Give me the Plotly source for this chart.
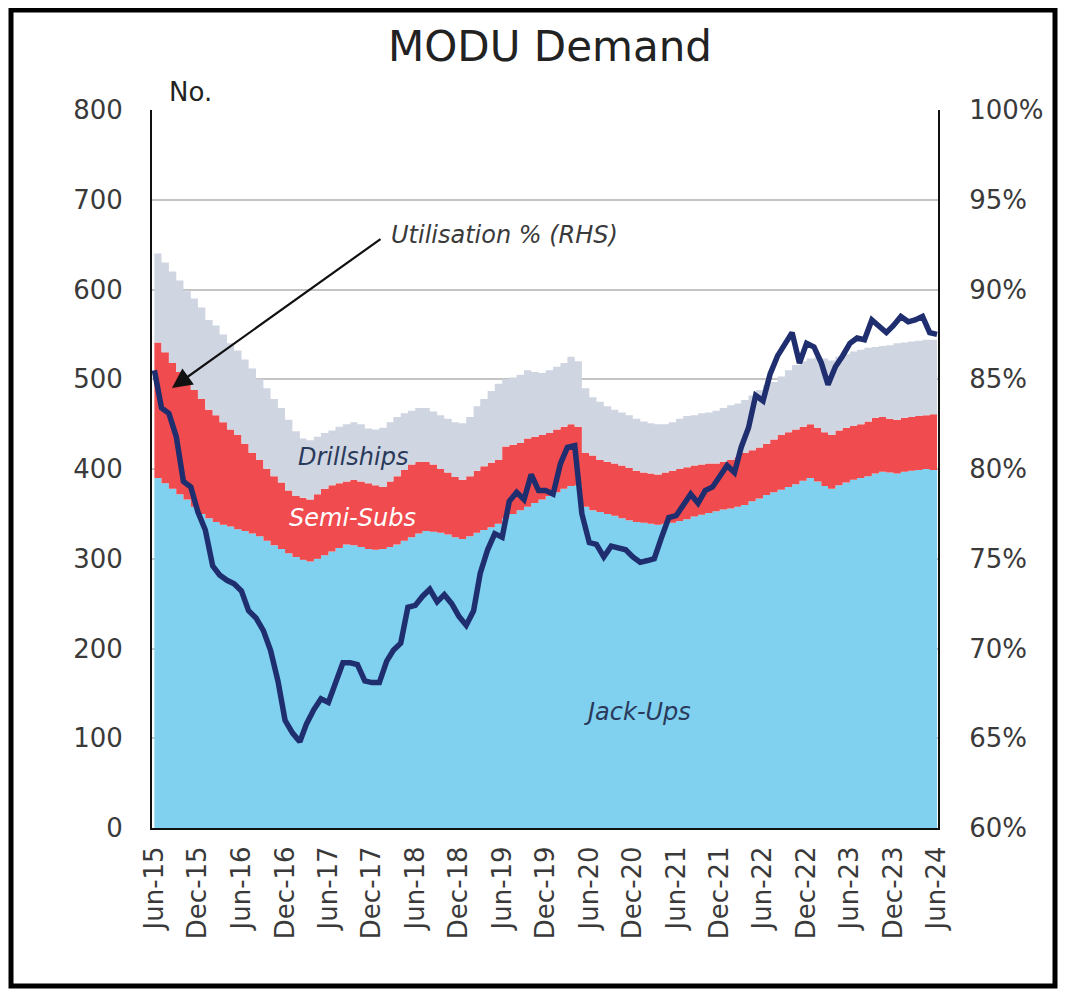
import pandas as pd
import plotly.graph_objects as go

# ---------------- data (monthly, Jun-15 .. Jun-24) ----------------
months = pd.date_range("2015-06-01", periods=109, freq="MS")

jack_ups = [
    390, 384, 378, 372, 366, 358, 350, 345, 341, 338, 336, 333,
    331, 328, 325, 320, 315, 311, 306, 302, 299, 297, 300, 304,
    308, 312, 316, 315, 313, 311, 310, 311, 313, 316, 320, 324,
    328, 331, 330, 329, 327, 324, 322, 325, 329, 332, 335, 339,
    345, 350, 354, 358, 362, 366, 370, 374, 378, 381, 382, 358,
    354, 352, 350, 348, 345, 343, 341, 340, 339, 338, 339, 340,
    342, 344, 347, 349, 351, 353, 355, 356, 358, 360, 364, 367,
    371, 374, 377, 380, 383, 387, 390, 386, 381, 378, 382, 385,
    388, 390, 392, 395, 397, 396, 395, 397, 398, 399, 400, 399,
    391,
]

semi_subs_top = [
    541, 530, 518, 508, 498, 488, 478, 466, 460, 452, 444, 438,
    428, 418, 410, 400, 392, 385, 376, 370, 368, 366, 372, 378,
    382, 384, 386, 388, 386, 384, 382, 380, 386, 392, 399, 405,
    408, 408, 405, 400, 396, 391, 388, 392, 398, 403, 407, 410,
    425, 427, 429, 434, 436, 438, 440, 444, 447, 450, 447, 418,
    415, 410, 408, 406, 404, 401, 398, 396, 395, 394, 396, 398,
    400, 402, 404, 405, 406, 406, 408, 410, 413, 418, 421, 424,
    428, 433, 438, 441, 444, 447, 450, 446, 441, 438, 443, 446,
    448, 450, 453, 457, 458, 456, 455, 457, 458, 459, 460, 461,
    455,
]

drillships_top = [
    640, 630, 620, 610, 598, 590, 580, 566, 560, 550, 540, 532,
    522, 512, 500, 490, 478, 468, 455, 442, 434, 432, 436, 440,
    443, 447, 450, 452, 450, 445, 444, 446, 452, 458, 462, 465,
    468, 468, 464, 460, 456, 452, 451, 458, 470, 478, 487, 495,
    500, 502, 505, 510, 508, 507, 510, 514, 518, 525, 520, 490,
    480, 475, 470, 466, 463, 460, 456, 453, 451, 450, 450, 452,
    456, 459, 460, 462, 463, 465, 468, 471, 473, 477, 482, 488,
    493, 497, 503, 510, 516, 520, 523, 524, 523, 521, 525, 528,
    531, 533, 535, 536, 537, 538, 540, 541, 542, 543, 544, 544,
    544,
]

utilisation = [
    85.5, 83.4, 83.1, 81.8, 79.3, 79.0, 77.6, 76.6, 74.6, 74.1, 73.8, 73.6,
    73.2, 72.1, 71.7, 71.0, 69.9, 68.2, 66.0, 65.3, 64.8, 65.8, 66.6, 67.2,
    67.0, 68.2, 69.2, 69.2, 69.1, 68.2, 68.1, 68.1, 69.3, 69.9, 70.3, 72.3,
    72.4, 72.9, 73.3, 72.6, 73.0, 72.5, 71.8, 71.3, 72.1, 74.2, 75.5, 76.4,
    76.2, 78.2, 78.7, 78.3, 79.7, 78.8, 78.8, 78.6, 80.3, 81.2, 81.3, 77.5,
    75.9, 75.8, 75.1, 75.7, 75.6, 75.5, 75.1, 74.8, 74.9, 75.0, 76.2, 77.3,
    77.4, 78.0, 78.6, 78.1, 78.8, 79.0, 79.6, 80.2, 79.8, 81.2, 82.3, 84.1,
    83.8, 85.3, 86.3, 87.0, 87.6, 85.9, 87.0, 86.8, 85.9, 84.7, 85.7, 86.3,
    87.0, 87.3, 87.2, 88.3, 88.0, 87.6, 88.0, 88.5, 88.2, 88.3, 88.5, 87.6,
    87.5,
]

tick_dates = pd.date_range("2015-06-01", "2024-06-01", freq="6MS")
tick_labels = ["Jun-15", "Dec-15", "Jun-16", "Dec-16", "Jun-17", "Dec-17",
               "Jun-18", "Dec-18", "Jun-19", "Dec-19", "Jun-20", "Dec-20",
               "Jun-21", "Dec-21", "Jun-22", "Dec-22", "Jun-23", "Dec-23",
               "Jun-24"]

semi_subs = [t - j for t, j in zip(semi_subs_top, jack_ups)]
drillships = [d - s for d, s in zip(drillships_top, semi_subs_top)]

# ---------------- figure ----------------
FONT = "DejaVu Sans"
TXT = "#3a3a3a"

fig = go.Figure()
fig.add_trace(go.Scatter(x=months, y=jack_ups, name="Jack-Ups", stackgroup="a",
                         line=dict(width=0, shape="hv"), fillcolor="#80D0F0",
                         mode="lines"))
fig.add_trace(go.Scatter(x=months, y=semi_subs, name="Semi-Subs", stackgroup="a",
                         line=dict(width=0, shape="hv"), fillcolor="#F04B4F",
                         mode="lines"))
fig.add_trace(go.Scatter(x=months, y=drillships, name="Drillships", stackgroup="a",
                         line=dict(width=0, shape="hv"), fillcolor="#D0D5E2",
                         mode="lines"))
fig.add_trace(go.Scatter(x=months, y=utilisation, name="Utilisation % (RHS)",
                         yaxis="y2", mode="lines",
                         line=dict(color="#1F2E6E", width=5.5)))

# page has an 8px body margin: figure pixel = page pixel - 8
OFF = 8
W, H = 1050, 981
PL, PR, PT, PB = 152, 938, 110, 828          # plot area in page pixels
L, T = PL - OFF, PT - OFF
R = W - (PR - OFF)
B = H - (PB - OFF)
pw, ph = PR - PL, PB - PT


def px(x):
    return (x - PL) / pw


def py(y):
    return (PB - y) / ph


fig.update_layout(
    width=W, height=H,
    margin=dict(l=L, r=R, t=T, b=B, autoexpand=False),
    paper_bgcolor="white", plot_bgcolor="white",
    showlegend=False,
    font=dict(family=FONT, size=24, color=TXT),
    title=dict(text="MODU Demand", x=(550 - OFF) / W, xanchor="center",
               y=1 - (46 - OFF) / H, yanchor="middle",
               font=dict(family=FONT, size=42, color="#222222")),
    xaxis=dict(type="date", range=["2015-05-22", "2024-06-05"],
               tickvals=tick_dates, ticktext=tick_labels, tickangle=-90,
               showgrid=False, showline=True, linecolor="#111111", linewidth=2,
               ticks="", ticklabelstandoff=6,
               tickfont=dict(size=26, color=TXT)),
    yaxis=dict(range=[0, 800], dtick=100, showgrid=True, gridcolor="#C4C4C4",
               gridwidth=2, showline=True, linecolor="#111111", linewidth=2,
               zeroline=False, ticks="", ticklabelstandoff=22,
               tickfont=dict(size=26, color=TXT)),
    yaxis2=dict(range=[60, 100], dtick=5, ticksuffix="%", overlaying="y",
                side="right", showgrid=False, showline=True,
                linecolor="#111111", linewidth=2, zeroline=False, ticks="",
                ticklabelstandoff=24, tickfont=dict(size=26, color=TXT)),
)

annotations = [
    dict(text="No.", x=px(190), y=py(92), xref="paper", yref="paper",
         xanchor="center", yanchor="middle", showarrow=False,
         font=dict(size=26, color="#222222")),
    dict(text="<i>Utilisation % (RHS)</i>", x=px(504), y=py(235),
         xref="paper", yref="paper", xanchor="center", yanchor="middle",
         showarrow=False, font=dict(size=24, color=TXT)),
    dict(text="", x=px(172), y=py(388), xref="paper", yref="paper",
         showarrow=True, ax=210, ay=-150, arrowhead=2, arrowsize=1.8,
         arrowwidth=2.2, arrowcolor="#111111"),
    dict(text="<i>Drillships</i>", x=px(353), y=py(457), xref="paper",
         yref="paper", xanchor="center", yanchor="middle", showarrow=False,
         font=dict(size=24, color="#2a3a5a")),
    dict(text="<i>Semi-Subs</i>", x=px(352), y=py(518), xref="paper",
         yref="paper", xanchor="center", yanchor="middle", showarrow=False,
         font=dict(size=24, color="white")),
    dict(text="<i>Jack-Ups</i>", x=px(637), y=py(712), xref="paper",
         yref="paper", xanchor="center", yanchor="middle", showarrow=False,
         font=dict(size=24, color="#2a3a5a")),
]
fig.update_layout(annotations=annotations)

# outer frame (page ~ 11..1061 x 6..993), clipped to the figure canvas
fig.add_shape(type="rect", xref="paper", yref="paper",
              x0=px(11), x1=px(OFF + W - 3), y0=py(OFF + H - 3), y1=py(OFF + 2),
              line=dict(color="black", width=5), fillcolor="rgba(0,0,0,0)",
              layer="above")

fig.write_html("out.html")
